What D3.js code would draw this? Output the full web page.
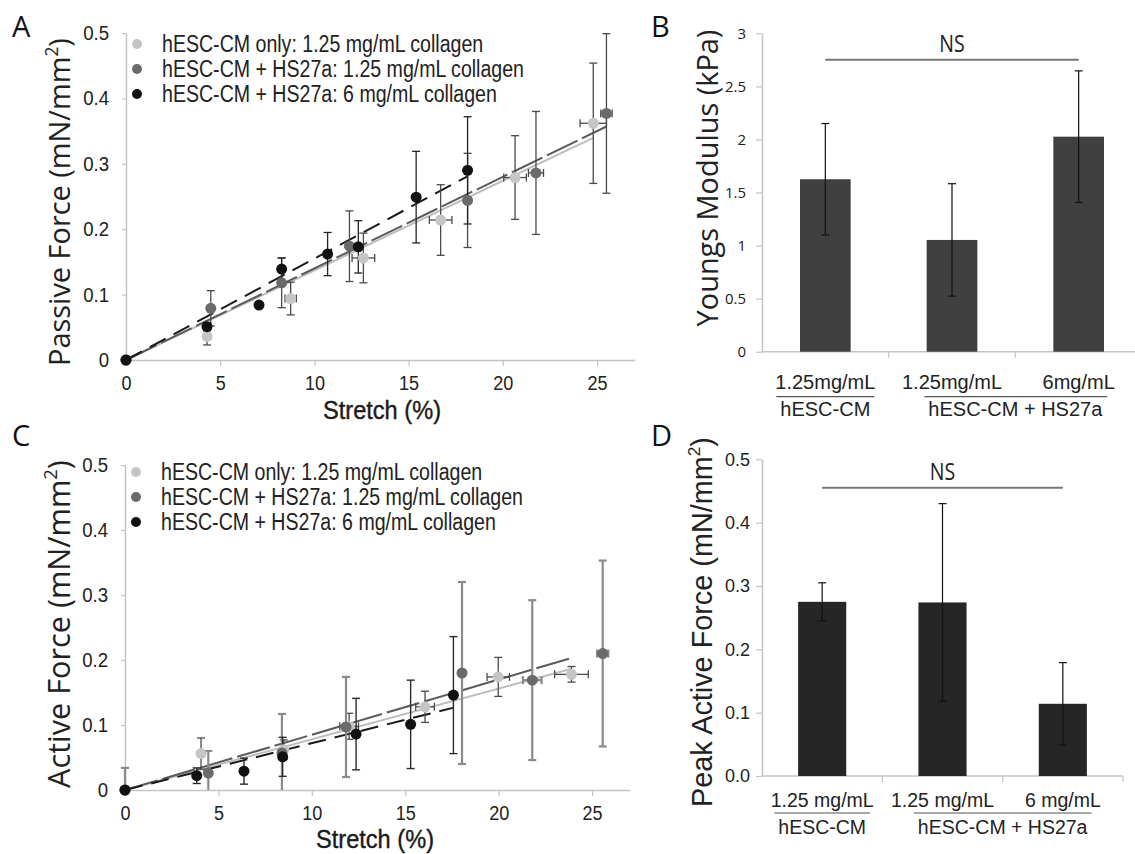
<!DOCTYPE html>
<html>
<head>
<meta charset="utf-8">
<script src="https://cdn.jsdelivr.net/npm/d3@7"></script>
<style>
  body { margin: 0; background: #fff; }
  svg { display: block; }
</style>
</head>
<body>
<script>
// ---- data ----
const seriesNames = [
  "hESC-CM only: 1.25 mg/mL collagen",
  "hESC-CM + HS27a: 1.25 mg/mL collagen",
  "hESC-CM + HS27a: 6 mg/mL collagen",
];
const stretchTicks = [0, 5, 10, 15, 20, 25];
const forceTicks = [0, 0.1, 0.2, 0.3, 0.4, 0.5];

// x = stretch (%), y = force, ey / ex = error half-widths
const passiveOnly = [
  {x: 0, y: 0}, {x: 4.3, y: 0.036, ey: 0.013}, {x: 8.74, y: 0.094, ey: 0.025, ex: 0.3},
  {x: 12.6, y: 0.156, ey: 0.038, ex: 0.6}, {x: 16.7, y: 0.214, ey: 0.054, ex: 0.6},
  {x: 20.65, y: 0.279, ey: 0.064, ex: 0.6}, {x: 24.8, y: 0.362, ey: 0.092, ex: 0.7},
];
const passiveHs125 = [
  {x: 0, y: 0}, {x: 4.5, y: 0.079, ey: 0.027}, {x: 8.26, y: 0.118, ey: 0.038},
  {x: 11.86, y: 0.174, ey: 0.054}, {x: 18.13, y: 0.244, ey: 0.072},
  {x: 21.76, y: 0.286, ey: 0.094, ex: 0.4}, {x: 25.5, y: 0.377, ey: 0.122, ex: 0.3},
];
const passiveHs6 = [
  {x: 0, y: 0}, {x: 4.3, y: 0.051, ey: 0.006}, {x: 7.06, y: 0.084, ey: 0.005},
  {x: 8.26, y: 0.139, ey: 0.017}, {x: 10.7, y: 0.162, ey: 0.033}, {x: 12.33, y: 0.173, ey: 0.04},
  {x: 15.4, y: 0.249, ey: 0.07}, {x: 18.13, y: 0.29, ey: 0.082},
];
const passiveFitSlopes = [0.0137, 0.014, 0.0155];
const passiveFitEnds = [24.8, 25.5, 18.1];

const activeOnly = [
  {x: 0, y: 0}, {x: 4.07, y: 0.056, ey: 0.024}, {x: 8.5, y: 0.062, ey: 0.015},
  {x: 12.0, y: 0.098, ey: 0.02, ex: 0.5}, {x: 16.06, y: 0.128, ey: 0.024, ex: 0.5},
  {x: 19.98, y: 0.174, ey: 0.03, ex: 0.6}, {x: 23.9, y: 0.178, ey: 0.012, ex: 0.9},
];
const activeHs125 = [
  {x: 0, y: 0, ey: 0.034}, {x: 4.46, y: 0.026, ey: 0.034}, {x: 8.4, y: 0.057, ey: 0.06},
  {x: 11.83, y: 0.097, ey: 0.077}, {x: 18.04, y: 0.18, ey: 0.14},
  {x: 21.8, y: 0.169, ey: 0.123, ex: 0.5}, {x: 25.57, y: 0.21, ey: 0.143, ex: 0.3},
];
const activeHs6 = [
  {x: 0, y: 0}, {x: 3.84, y: 0.022, ey: 0.012}, {x: 6.37, y: 0.029, ey: 0.02},
  {x: 8.44, y: 0.051, ey: 0.03}, {x: 12.37, y: 0.086, ey: 0.055},
  {x: 15.29, y: 0.101, ey: 0.068}, {x: 17.58, y: 0.146, ey: 0.09},
];
const activeFitSlopes = [0.0078, 0.0085, 0.0072];
const activeFitEnds = [23.9, 23.9, 17.6];

const youngsLabels = ["1.25mg/mL", "1.25mg/mL", "6mg/mL"];
const youngsValues = [1.625, 1.053, 2.026];
const youngsErrors = [0.525, 0.53, 0.62];
const youngsTicks = [0, 0.5, 1, 1.5, 2, 2.5, 3];

const peakLabels = ["1.25 mg/mL", "1.25 mg/mL", "6 mg/mL"];
const peakValues = [0.275, 0.274, 0.114];
const peakErrors = [0.03, 0.156, 0.065];
const peakTicks = [0, 0.1, 0.2, 0.3, 0.4, 0.5];

const groupNames = ["hESC-CM", "hESC-CM + HS27a"];
const groupMembers = [[0], [1, 2]];

// ---- look ----
const seriesColors = ["#c5c5c5", "#6a6a6a", "#111111"];
const fitColors = ["#bdbdbd", "#5a5a5a", "#1a1a1a"];
const fitDash = [null, "34,5", "18,9"];
const axisGrey = "#c4c4c4";
const SANS = "'Liberation Sans',Arial,sans-serif";
const HUMAN = "'Open Sans','Noto Sans',sans-serif";

const svg = d3.select("body").append("svg")
  .attr("width", 1135)
  .attr("height", 854);

// scale font size so the text spans a given width
function fitWidth(sel, target) {
  const len = sel.node().getComputedTextLength();
  const fs = parseFloat(sel.attr("font-size"));
  sel.attr("font-size", fs * target / len);
  return fs * target / len;
}
// squeeze glyphs horizontally (no narrow font installed)
function squeeze(sel, ratio) {
  sel.each(function () {
    const len = this.getComputedTextLength();
    d3.select(this).attr("textLength", len * ratio).attr("lengthAdjust", "spacingAndGlyphs");
  });
}

function styleAxis(g) {
  g.select(".domain").attr("stroke", axisGrey).attr("stroke-width", 1.5);
  g.selectAll(".tick line").attr("stroke", axisGrey).attr("stroke-width", 1.2);
  g.selectAll(".tick text").attr("fill", "#222");
}

/* scatter panel: force vs stretch with error bars + fit lines */
function scatterPanel(o) {
  const x = d3.scaleLinear().domain([0, 27]).range([o.left, o.right]);
  const y = d3.scaleLinear().domain([0, 0.5]).range([o.bottom, o.top]);
  const g = svg.append("g");

  const ya = g.append("g")
    .attr("transform", `translate(${o.left},0)`)
    .call(d3.axisLeft(y).tickValues(forceTicks).tickSize(4).tickSizeOuter(0).tickPadding(13)
      .tickFormat(d => d === 0 ? "0" : d3.format(".1f")(d)));
  ya.selectAll(".tick text").attr("font-family", SANS).attr("font-size", 20);
  styleAxis(ya);
  squeeze(ya.selectAll(".tick text"), 0.93);

  const xa = g.append("g")
    .attr("transform", `translate(0,${o.bottom})`)
    .call(d3.axisBottom(x).tickValues(stretchTicks).tickSize(6).tickSizeOuter(0).tickPadding(o.xPad));
  xa.selectAll(".tick text").attr("font-family", SANS).attr("font-size", 20);
  styleAxis(xa);
  squeeze(xa.selectAll(".tick text"), 0.9);

  // fit lines
  o.series.forEach((s, i) => {
    g.append("line")
      .attr("x1", x(0)).attr("y1", y(0))
      .attr("x2", x(o.fitEnds[i])).attr("y2", y(o.fitSlopes[i] * o.fitEnds[i]))
      .attr("stroke", fitColors[i])
      .attr("stroke-width", 2)
      .attr("stroke-dasharray", fitDash[i]);
  });

  // error bars (lower end stops at the axis)
  o.series.forEach((s, i) => {
    const eb = g.append("g").attr("stroke", o.errColors[i]).attr("stroke-width", o.errWidths[i]);
    s.filter(d => d.ey).forEach(d => {
      const lo = Math.max(0, d.y - d.ey), hi = d.y + d.ey;
      eb.append("line").attr("x1", x(d.x)).attr("x2", x(d.x))
        .attr("y1", y(lo)).attr("y2", y(hi));
      const caps = d.y - d.ey > 0 ? [lo, hi] : [hi];
      caps.forEach(v => {
        eb.append("line").attr("x1", x(d.x) - 4).attr("x2", x(d.x) + 4)
          .attr("y1", y(v)).attr("y2", y(v));
      });
    });
    s.filter(d => d.ex).forEach(d => {
      eb.append("line").attr("y1", y(d.y)).attr("y2", y(d.y))
        .attr("x1", x(d.x - d.ex)).attr("x2", x(d.x + d.ex));
      [d.x - d.ex, d.x + d.ex].forEach(v => {
        eb.append("line").attr("y1", y(d.y) - 4).attr("y2", y(d.y) + 4)
          .attr("x1", x(v)).attr("x2", x(v));
      });
    });
  });

  // points
  o.series.forEach((s, i) => {
    g.append("g").selectAll("circle")
      .data(s)
      .enter()
      .append("circle")
        .attr("cx", d => x(d.x))
        .attr("cy", d => y(d.y))
        .attr("r", 5.5)
        .attr("fill", seriesColors[i]);
  });

  // legend
  const lg = g.append("g");
  seriesNames.forEach((name, i) => {
    const yy = o.legendTop + i * 25;
    lg.append("circle").attr("cx", o.left + 11).attr("cy", yy).attr("r", 5).attr("fill", seriesColors[i]);
    lg.append("text")
      .attr("x", o.left + 36).attr("y", yy).attr("dy", "0.36em")
      .attr("font-family", SANS)
      .attr("font-size", 23.5).attr("fill", "#222")
      .text(name);
  });
  const ref = lg.selectAll("text").nodes()[1].getComputedTextLength();
  squeeze(lg.selectAll("text"), o.legendWidth / ref);

  // titles
  const xt = g.append("text")
    .attr("x", o.xTitleX).attr("y", o.xTitleY)
    .attr("text-anchor", "middle")
    .attr("font-family", SANS)
    .attr("font-size", 26).attr("fill", "#1a1a1a")
    .attr("stroke", "#1a1a1a").attr("stroke-width", 0.4)
    .text("Stretch (%)");
  squeeze(xt, 118 / xt.node().getComputedTextLength());

  const yt = g.append("text")
    .attr("transform", `translate(${o.yTitleX},${o.yTitleY}) rotate(-90)`)
    .attr("text-anchor", "middle")
    .attr("font-family", HUMAN).attr("font-size", 28).attr("fill", "#222");
  yt.append("tspan").text(o.yTitle + " (mN/mm");
  yt.append("tspan").attr("font-size", "0.6em").attr("dy", "-0.7em").text("2");
  yt.append("tspan").attr("dy", "0.42em").text(")");
  fitWidth(yt, o.yTitleLen);
}

/* bar panel with error bars, NS bracket and grouped labels */
function barPanel(o) {
  const x = d3.scaleBand().domain(d3.range(o.values.length)).range([o.left, o.right]);
  const y = d3.scaleLinear().domain(o.domain).range([o.bottom, o.top]);
  const g = svg.append("g");
  const bw = x.bandwidth() * 0.4;

  const ya = g.append("g")
    .attr("transform", `translate(${o.left},0)`)
    .call(d3.axisLeft(y).tickValues(o.ticks).tickSize(6).tickSizeOuter(0).tickPadding(o.tickPad)
      .tickFormat(o.tickFormat));
  ya.selectAll(".tick text").attr("font-family", o.tickFont).attr("font-size", o.tickSize);
  styleAxis(ya);

  // baseline and separators
  g.append("line").attr("x1", o.left).attr("x2", o.right)
    .attr("y1", o.bottom).attr("y2", o.bottom)
    .attr("stroke", axisGrey).attr("stroke-width", 1.5);
  d3.range(1, o.values.length + 1).forEach(i => {
    const xx = o.left + i * x.step();
    g.append("line").attr("x1", xx).attr("x2", xx)
      .attr("y1", o.bottom).attr("y2", o.bottom + 6)
      .attr("stroke", axisGrey).attr("stroke-width", 1.2);
  });

  g.selectAll("rect.bar")
    .data(o.values)
    .enter()
    .append("rect")
      .attr("class", "bar")
      .attr("x", (d, i) => x(i) + (x.bandwidth() - bw) / 2)
      .attr("width", bw)
      .attr("y", d => y(d))
      .attr("height", d => o.bottom - y(d))
      .attr("fill", o.barColor);

  o.values.forEach((v, i) => {
    const cx = x(i) + x.bandwidth() / 2;
    const e = o.errors[i];
    g.append("line").attr("x1", cx).attr("x2", cx)
      .attr("y1", y(v - e)).attr("y2", y(v + e))
      .attr("stroke", "#111").attr("stroke-width", 1.2);
    [v - e, v + e].forEach(w => {
      g.append("line").attr("x1", cx - 4).attr("x2", cx + 4)
        .attr("y1", y(w)).attr("y2", y(w))
        .attr("stroke", "#111").attr("stroke-width", 1.2);
    });
  });

  // NS bracket
  const c0 = x(0) + x.bandwidth() / 2;
  const c2 = x(o.values.length - 1) + x.bandwidth() / 2;
  g.append("line").attr("x1", c0).attr("x2", c2)
    .attr("y1", y(o.nsLevel)).attr("y2", y(o.nsLevel))
    .attr("stroke", "#777").attr("stroke-width", 2);
  const ns = g.append("text")
    .attr("x", (c0 + c2) / 2).attr("y", y(o.nsLevel) - 8)
    .attr("text-anchor", "middle")
    .attr("font-family", HUMAN).attr("font-size", 23).attr("fill", "#222")
    .text("NS");
  squeeze(ns, 0.85);

  // category + group labels
  o.labels.forEach((lab, i) => {
    g.append("text")
      .attr("x", x(i) + x.bandwidth() / 2).attr("y", o.bottom + o.labelDy)
      .attr("text-anchor", "middle")
      .attr("font-family", SANS).attr("font-size", o.labelSize).attr("fill", "#222")
      .text(lab);
  });
  groupNames.forEach((gn, k) => {
    const mem = groupMembers[k];
    const cx = d3.mean(mem, i => x(i) + x.bandwidth() / 2);
    const t = g.append("text")
      .attr("x", cx).attr("y", o.bottom + o.groupDy)
      .attr("text-anchor", "middle")
      .attr("font-family", SANS).attr("font-size", o.labelSize).attr("fill", "#222")
      .text(gn);
    const bb = t.node().getBBox();
    g.append("line")
      .attr("x1", bb.x - 4).attr("x2", bb.x + bb.width + 4)
      .attr("y1", o.bottom + o.ruleDy).attr("y2", o.bottom + o.ruleDy)
      .attr("stroke", "#555").attr("stroke-width", 1.2);
  });

  const yt = g.append("text")
    .attr("transform", `translate(${o.yTitleX},${o.yTitleY}) rotate(-90)`)
    .attr("text-anchor", "middle")
    .attr("font-family", o.titleFont).attr("font-size", 26).attr("fill", "#222");
  o.yTitle.forEach(part => {
    const ts = yt.append("tspan").text(part.t);
    if (part.sup) ts.attr("font-size", "0.6em").attr("dy", "-0.7em");
    if (part.after) ts.attr("dy", "0.42em");
  });
  fitWidth(yt, o.yTitleLen);
}

scatterPanel({
  left: 126, right: 634.7, top: 33, bottom: 360, xPad: 10,
  series: [passiveOnly, passiveHs125, passiveHs6],
  fitSlopes: passiveFitSlopes, fitEnds: passiveFitEnds,
  errColors: ["#4a4a4a", "#4a4a4a", "#222"], errWidths: [1.3, 1.3, 1.3],
  legendTop: 44, legendWidth: 362,
  xTitleX: 382, xTitleY: 419,
  yTitle: "Passive Force", yTitleX: 70, yTitleY: 202, yTitleLen: 328,
});

scatterPanel({
  left: 125, right: 629.4, top: 465, bottom: 790, xPad: 10,
  series: [activeOnly, activeHs125, activeHs6],
  fitSlopes: activeFitSlopes, fitEnds: activeFitEnds,
  errColors: ["#4a4a4a", "#8a8a8a", "#2a2a2a"], errWidths: [1.3, 2.2, 1.4],
  legendTop: 472, legendWidth: 362,
  xTitleX: 375, xTitleY: 848,
  yTitle: "Active Force", yTitleX: 70, yTitleY: 624, yTitleLen: 328,
});

barPanel({
  left: 762, right: 1142, top: 33.3, bottom: 351.7, domain: [0, 3],
  values: youngsValues, errors: youngsErrors, labels: youngsLabels, ticks: youngsTicks,
  tickFormat: d3.format("~g"), tickFont: HUMAN, tickSize: 15, tickPad: 10,
  barColor: "#404040", nsLevel: 2.75,
  labelSize: 20, labelDy: 37, groupDy: 64, ruleDy: 45,
  titleFont: HUMAN, yTitleX: 718, yTitleY: 178, yTitleLen: 297,
  yTitle: [{t: "Youngs Modulus (kPa)"}],
});

barPanel({
  left: 762, right: 1123, top: 459.3, bottom: 776, domain: [0, 0.5],
  values: peakValues, errors: peakErrors, labels: peakLabels, ticks: peakTicks,
  tickFormat: d3.format(".1f"), tickFont: SANS, tickSize: 18, tickPad: 6,
  barColor: "#262626", nsLevel: 0.455,
  labelSize: 19.5, labelDy: 31, groupDy: 58, ruleDy: 37,
  titleFont: SANS, yTitleX: 712, yTitleY: 622, yTitleLen: 370,
  yTitle: [{t: "Peak Active Force (mN/mm"}, {t: "2", sup: true}, {t: ")", after: true}],
});

// panel letters
[["A", 12, 37], ["B", 651, 37], ["C", 12, 446], ["D", 651, 446]].forEach(([l, xx, yy]) => {
  svg.append("text").attr("x", xx).attr("y", yy)
    .attr("font-family", HUMAN).attr("font-size", 29).attr("fill", "#111")
    .text(l);
});
</script>
</body>
</html>
